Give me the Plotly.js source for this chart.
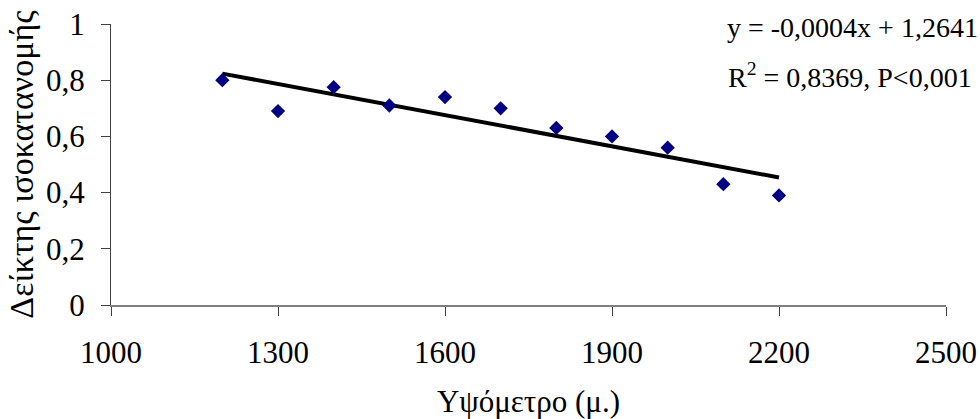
<!DOCTYPE html>
<html>
<head>
<meta charset="utf-8">
<script src="https://cdn.plot.ly/plotly-3.0.1.min.js"></script>
<style>html,body{margin:0;padding:0;background:#fff;}#chart{width:980px;height:419px;}</style>
</head>
<body>
<div id="chart"></div>
<script>
// Data
const altitude = [1200, 1300, 1400, 1500, 1600, 1700, 1800, 1900, 2000, 2100, 2200];
const evennessIndex = [0.80, 0.69, 0.775, 0.71, 0.74, 0.70, 0.63, 0.60, 0.56, 0.43, 0.39];
const xTickValues = [1000, 1300, 1600, 1900, 2200, 2500];
const yTickValues = [0, 0.2, 0.4, 0.6, 0.8, 1];
const equationText = "y = -0,0004x + 1,2641";
const r2Text = "R<sup>2</sup> = 0,8369, P&lt;0,001";
const xTitle = "Υψόμετρο (μ.)";
const yTitle = "Δείκτης ισοκατανομής";

// Least-squares linear trend from the data
const n = altitude.length;
const mx = altitude.reduce((a, b) => a + b, 0) / n;
const my = evennessIndex.reduce((a, b) => a + b, 0) / n;
let sxy = 0, sxx = 0;
for (let i = 0; i < n; i++) { sxy += (altitude[i] - mx) * (evennessIndex[i] - my); sxx += (altitude[i] - mx) ** 2; }
const slope = sxy / sxx;
const intercept = my - slope * mx;
const trendX = [altitude[0], altitude[n - 1]];
const trendY = trendX.map(x => intercept + slope * x);

const font = "Liberation Serif";

const traces = [
  {x: trendX, y: trendY, mode: "lines", line: {color: "#000000", width: 4}, hoverinfo: "skip"},
  {x: altitude, y: evennessIndex, mode: "markers", marker: {symbol: "diamond", size: 11, color: "#000080"}}
];

const layout = {
  width: 980, height: 419,
  margin: {l: 111, r: 34, t: 24, b: 114},
  paper_bgcolor: "#ffffff", plot_bgcolor: "#ffffff",
  showlegend: false,
  separators: ", ",
  font: {family: font, size: 30, color: "#000000"},
  xaxis: {
    range: [1000, 2500], tickvals: xTickValues, showgrid: false, zeroline: false,
    showline: true, linecolor: "#808080", linewidth: 2,
    ticks: "outside", ticklen: 9, tickcolor: "#404040", tickwidth: 1,
    ticklabelstandoff: 10,
    tickfont: {family: font, size: 31},
    title: {text: xTitle, font: {family: font, size: 31}, standoff: 22}
  },
  yaxis: {
    range: [0, 1], tickvals: yTickValues, tickformat: "~g", showgrid: false, zeroline: false,
    showline: true, linecolor: "#404040", linewidth: 1,
    ticks: "outside", ticklen: 9, tickcolor: "#404040", tickwidth: 1,
    ticklabelstandoff: 10,
    tickfont: {family: font, size: 31},
    title: {text: yTitle, font: {family: font, size: 34}, standoff: 2}
  },
  annotations: [
    {xref: "paper", yref: "paper", x: 0.735, y: 0.986, xanchor: "left", yanchor: "middle", text: equationText, showarrow: false, font: {family: font, size: 28}},
    {xref: "paper", yref: "paper", x: 0.736, y: 0.815, xanchor: "left", yanchor: "middle", text: r2Text, showarrow: false, font: {family: font, size: 28}}
  ]
};

Plotly.newPlot("chart", traces, layout, {displayModeBar: false, staticPlot: true});
</script>
</body>
</html>
